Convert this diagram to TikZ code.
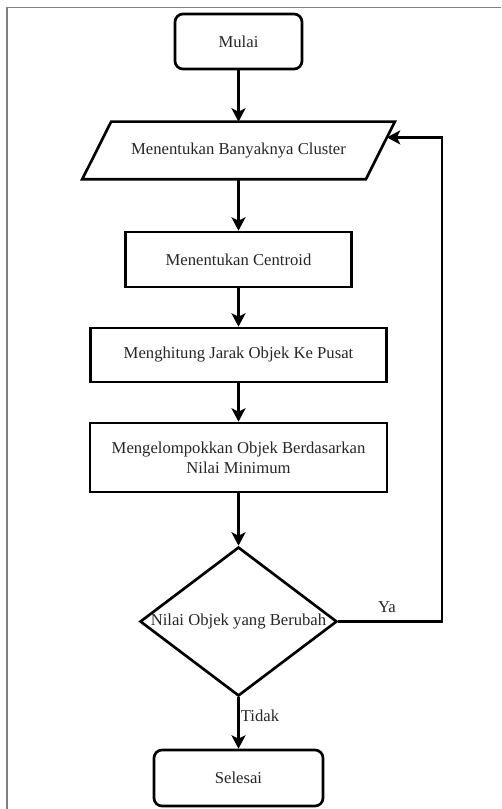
\documentclass[tikz,border=0pt]{standalone}
\usepackage{fontspec}
\setmainfont{Liberation Serif}
\usetikzlibrary{shapes.geometric,arrows.meta,calc}
\begin{document}
\begin{tikzpicture}[x=0.75pt,y=-0.75pt,
  base/.style={draw=black, line width=2pt, font=\fontsize{12.5}{15}\selectfont, align=center, inner sep=0pt, text=black!85},
  term/.style={base, rectangle, rounded corners=6pt},
  proc/.style={base, rectangle},
  io/.style={base, draw=none, rectangle},
  dec/.style={base, diamond},
  edge/.style={line width=2pt},
  flow/.style={edge, -{Stealth[length=10pt,width=10.5pt,inset=2.5pt]}},
  lbl/.style={font=\fontsize{12.5}{15}\selectfont, inner sep=0pt, text=black!85},
]
\useasboundingbox (0,0) rectangle (501,809);
\draw[gray, line width=1.2pt] (7,809) -- (7,7.5) -- (501,7.5);
\node[term, minimum width=127*0.75pt, minimum height=55*0.75pt] (start) at (238.5,41.5) {Mulai};
\node[io, minimum width=281*0.75pt, minimum height=55*0.75pt] (k) at (238.5,150.5) {Menentukan Banyaknya Cluster};
\coordinate (kTL) at ([xshift=14.5*0.75pt]k.north west);
\coordinate (kTR) at ([xshift=14.5*0.75pt]k.north east);
\coordinate (kBR) at ([xshift=-14.5*0.75pt]k.south east);
\coordinate (kBL) at ([xshift=-14.5*0.75pt]k.south west);
\draw[edge, line join=miter] (kTL) -- (kTR) -- (kBR) -- (kBL) -- cycle;
\node[proc, minimum width=226*0.75pt, minimum height=55*0.75pt] (c) at (238.5,259.5) {Menentukan Centroid};
\node[proc, minimum width=296*0.75pt, minimum height=54*0.75pt] (d) at (238.5,355) {Menghitung Jarak Objek Ke Pusat};
\node[proc, minimum width=297*0.75pt, minimum height=69*0.75pt] (g) at (238.5,457.5) {Mengelompokkan Objek Berdasarkan\\Nilai Minimum};
\node[dec, minimum width=197*0.75pt, minimum height=149*0.75pt] (q) at (238.5,621.5) {\makebox[0pt]{Nilai Objek yang Berubah}};
\node[term, minimum width=169*0.75pt, minimum height=56*0.75pt] (end) at (238.5,778) {Selesai};
\coordinate (loop) at (442,621.5);
\draw[flow] (start) -- (k);
\draw[flow] (k) -- (c);
\draw[flow] (c) -- (d);
\draw[flow] (d) -- (g);
\draw[flow] (g) -- (q);
\draw[flow] (q) -- (end);
\draw[flow] (q.east) -- (loop) |- ($(kTR)!0.273!(kBR)$);
\node[lbl] (ya) at (387,607) {Ya};
\node[lbl] (tidak) at (260,716) {Tidak};
\end{tikzpicture}
\end{document}
